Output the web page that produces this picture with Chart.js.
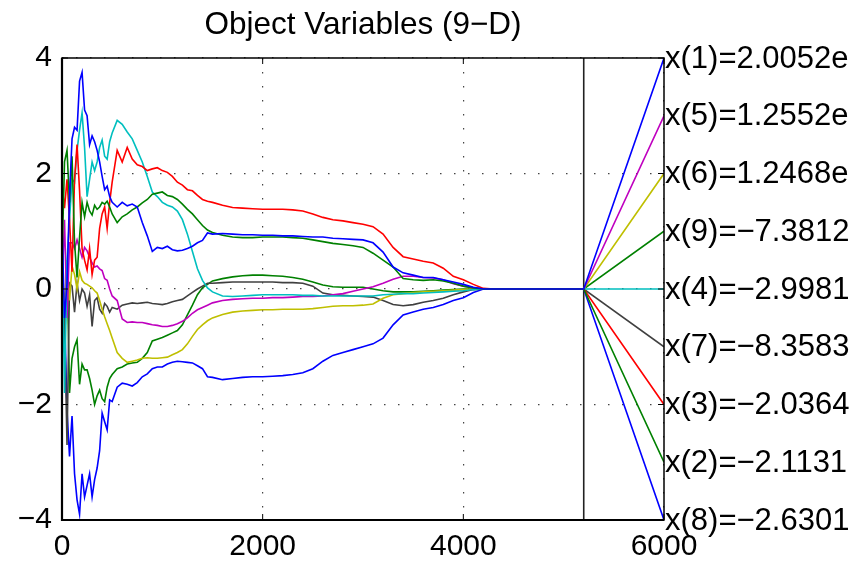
<!DOCTYPE html>
<html>
<head>
<meta charset="utf-8">
<script src="https://cdn.jsdelivr.net/npm/chart.js@4/dist/chart.umd.min.js"></script>
<style>
html,body{margin:0;padding:0;background:#fff;}
#c{display:block;}
</style>
</head>
<body>
<canvas id="c" width="857" height="564"></canvas>
<script>
// ---- data ----
const titleText = "Object Variables (9\u2212D)";
const evals = [0,25,50,75,100,125,150,175,200,225,250,275,300,325,350,375,400,425,450,475,500,
  550,600,650,700,750,800,850,900,950,1000,1050,1100,1150,1200,1250,1300,1350,1400,1450,1500,
  1600,1700,1800,1900,2000,2100,2200,2300,2400,2500,2600,2700,2800,2900,3000,3100,3200,3300,3400,3500,3600,3700,3800,3900,4000,4100,4200,4300,5200];
const finalEval = 5200;
const labelEval = 6000;

const x1 = [1.1,-0.5,0.1,1.6,2.6,2.8,2.75,3.6,3.75,3.1,3.0,2.5,2.65,2.55,2.4,2.2,1.95,1.72,1.78,1.6,1.5,
  1.42,1.5,1.44,1.47,1.42,1.15,0.92,0.65,0.72,0.7,0.74,0.68,0.66,0.67,0.7,0.74,0.8,0.84,0.97,0.95,
  0.96,0.95,0.94,0.94,0.93,0.93,0.92,0.92,0.91,0.9,0.9,0.88,0.87,0.86,0.85,0.8,0.64,0.38,0.28,0.24,0.2,0.2,0.16,0.12,0.08,0.03,0,0,0];
const x2 = [0.5,2.2,2.4,1.5,2.3,0.8,0.2,0.9,1.5,1.25,1.5,1.35,1.28,1.45,1.38,1.42,1.5,1.47,1.52,1.42,1.3,
  1.15,1.25,1.3,1.37,1.42,1.49,1.55,1.64,1.66,1.68,1.62,1.6,1.55,1.47,1.38,1.3,1.2,1.1,1.02,0.98,
  0.93,0.9,0.89,0.89,0.9,0.9,0.9,0.89,0.88,0.85,0.82,0.79,0.77,0.75,0.72,0.62,0.5,0.38,0.18,0.16,0.15,0.16,0.14,0.1,0.05,0.02,0,0,0];
const x3 = [1.8,1.4,1.9,1.2,0.3,1.9,2.5,1.7,0.7,0.5,0.33,0.7,0.25,0.5,0.55,1.05,1.3,1.42,1.05,1.5,1.85,
  2.4,2.2,2.45,2.25,2.15,2.12,2.05,2.08,2.1,2.05,2.02,1.95,1.85,1.8,1.72,1.7,1.62,1.55,1.52,1.5,
  1.45,1.41,1.4,1.39,1.38,1.38,1.38,1.37,1.35,1.3,1.24,1.2,1.18,1.15,1.12,1.08,0.95,0.72,0.56,0.52,0.48,0.45,0.36,0.22,0.16,0.08,0.01,0,0];
const x4 = [1.2,-1.8,0.5,1.2,1.9,1.85,2.4,2.75,3.05,2.45,1.6,1.9,2.2,2.05,2.2,2.45,2.58,2.3,2.25,2.55,2.7,
  2.92,2.85,2.72,2.6,2.4,2.2,1.95,1.68,1.6,1.5,1.45,1.42,1.35,1.2,0.95,0.65,0.35,0.15,0.02,-0.05,
  -0.12,-0.13,-0.12,-0.11,-0.1,-0.1,-0.1,-0.1,-0.11,-0.11,-0.12,-0.12,-0.12,-0.12,-0.12,-0.12,-0.1,-0.09,-0.08,-0.08,-0.07,-0.06,-0.05,-0.04,-0.03,-0.01,0,0,0];
const x5 = [0,1.2,-0.5,0.8,0.8,0.7,0.85,0.7,0.55,0.72,0.66,0.55,0.45,0.38,0.4,0.35,0.32,0.18,0.15,0.0,-0.12,
  -0.2,-0.52,-0.58,-0.57,-0.58,-0.58,-0.6,-0.62,-0.63,-0.65,-0.65,-0.63,-0.6,-0.56,-0.5,-0.42,-0.36,-0.32,-0.28,-0.24,
  -0.2,-0.18,-0.17,-0.16,-0.16,-0.15,-0.15,-0.14,-0.13,-0.13,-0.12,-0.1,-0.08,-0.04,0.0,0.04,0.1,0.17,0.22,0.22,0.2,0.19,0.16,0.09,0.05,0.02,0,0,0];
const x6 = [0.3,-0.3,0.5,-0.2,0.4,0.25,0.0,0.3,0.15,0.1,0.08,0.05,0.02,-0.03,-0.07,-0.2,-0.35,-0.48,-0.6,-0.72,-0.85,
  -1.1,-1.2,-1.27,-1.25,-1.23,-1.2,-1.19,-1.2,-1.2,-1.19,-1.18,-1.14,-1.1,-1.05,-0.95,-0.82,-0.7,-0.62,-0.55,-0.5,
  -0.44,-0.4,-0.38,-0.37,-0.36,-0.36,-0.35,-0.35,-0.35,-0.34,-0.32,-0.3,-0.29,-0.29,-0.28,-0.26,-0.16,-0.1,-0.08,-0.06,-0.05,-0.04,-0.03,-0.02,-0.01,0,0,0,0];
const x7 = [0.2,-0.5,-2.7,0.1,0.05,-0.4,0.1,-0.2,0.0,-0.07,-0.3,-0.1,-0.65,-0.2,-0.15,-0.35,-0.42,-0.25,-0.3,-0.4,-0.32,
  -0.35,-0.28,-0.26,-0.24,-0.25,-0.24,-0.23,-0.25,-0.26,-0.27,-0.25,-0.22,-0.2,-0.18,-0.12,-0.06,0.0,0.05,0.1,0.1,
  0.11,0.12,0.12,0.12,0.12,0.12,0.11,0.11,0.1,0.05,-0.07,-0.1,-0.11,-0.12,-0.13,-0.14,-0.2,-0.27,-0.29,-0.27,-0.23,-0.2,-0.16,-0.1,-0.05,-0.01,0,0,0];
const x8 = [-1.0,-0.4,-2.1,-2.9,-2.2,-3.2,-3.65,-3.9,-3.2,-3.6,-3.4,-3.2,-3.6,-3.3,-3.1,-2.8,-2.15,-2.3,-2.44,-1.92,-1.95,
  -1.7,-1.63,-1.65,-1.68,-1.62,-1.52,-1.47,-1.38,-1.35,-1.35,-1.3,-1.27,-1.25,-1.26,-1.27,-1.28,-1.33,-1.38,-1.52,-1.53,
  -1.57,-1.55,-1.53,-1.52,-1.52,-1.51,-1.5,-1.48,-1.45,-1.38,-1.25,-1.15,-1.1,-1.05,-1.0,-0.95,-0.85,-0.62,-0.45,-0.4,-0.35,-0.32,-0.27,-0.2,-0.15,-0.06,0,0,0];
const x9 = [-0.3,-1.1,0.5,-1.8,-1.2,-1.0,-0.88,-1.65,-1.3,-1.4,-1.4,-1.55,-1.75,-2.0,-1.85,-1.75,-1.9,-1.95,-1.7,-1.55,-1.48,
  -1.38,-1.35,-1.3,-1.28,-1.27,-1.2,-1.1,-0.9,-0.87,-0.84,-0.8,-0.76,-0.72,-0.62,-0.45,-0.28,-0.1,0.02,0.08,0.14,
  0.18,0.21,0.23,0.24,0.24,0.23,0.22,0.2,0.17,0.12,0.07,0.04,0.03,0.03,0.03,0.0,-0.03,-0.05,-0.05,-0.05,-0.04,-0.03,-0.02,-0.01,0,0,0,0,0];

const seriesValues = [x1, x2, x3, x4, x5, x6, x7, x8, x9];
const seriesNames = ["x(1)", "x(2)", "x(3)", "x(4)", "x(5)", "x(6)", "x(7)", "x(8)", "x(9)"];
// rank position of each variable's end label on the y scale
const labelRank = [4, -3, -2, 0, 3, 2, -1, -4, 1];
const labelText = ["x(1)=2.0052e", "x(2)=\u22122.1131", "x(3)=\u22122.0364", "x(4)=\u22122.9981",
  "x(5)=1.2552e", "x(6)=1.2468e", "x(7)=\u22128.3583", "x(8)=\u22122.6301", "x(9)=\u22127.3812"];
const xTicks = [0, 2000, 4000, 6000];
const yTicks = [-4, -2, 0, 2, 4];

// ---- styles ----
const colors = ["#0000ff", "#008000", "#ff0000", "#00bfbf", "#bf00bf", "#bfbf00", "#404040", "#0000ff", "#008000"];
const FONT = "'Liberation Sans', Arial, Helvetica, sans-serif";

const datasets = seriesValues.map((vals, i) => {
  const pts = evals.map((e, k) => ({x: e, y: vals[k]}));
  pts.push({x: labelEval, y: labelRank[i]});
  return {
    label: seriesNames[i], data: pts, borderColor: colors[i], borderWidth: 1.6,
    pointRadius: 0, fill: false, tension: 0
  };
});
datasets.push({
  label: "end", data: [{x: finalEval, y: yTicks[0]}, {x: finalEval, y: yTicks[yTicks.length - 1]}],
  borderColor: "#222", borderWidth: 1.6, pointRadius: 0, fill: false
});

const framePlugin = {
  id: "frame",
  afterDatasetsDraw(chart) {
    const {ctx, chartArea: a, scales} = chart;
    ctx.save();
    ctx.strokeStyle = "#000";
    ctx.lineWidth = 1;
    // inward tick marks
    xTicks.forEach(v => {
      const px = scales.x.getPixelForValue(v);
      ctx.beginPath();
      ctx.moveTo(px, a.bottom); ctx.lineTo(px, a.bottom - 6);
      ctx.moveTo(px, a.top); ctx.lineTo(px, a.top + 6);
      ctx.stroke();
    });
    yTicks.forEach(v => {
      const py = scales.y.getPixelForValue(v);
      ctx.beginPath();
      ctx.moveTo(a.left, py); ctx.lineTo(a.left + 6, py);
      ctx.moveTo(a.right, py); ctx.lineTo(a.right - 6, py);
      ctx.stroke();
    });
    ctx.lineWidth = 1.5;
    ctx.strokeRect(a.left, a.top, a.right - a.left, a.bottom - a.top);
    ctx.lineWidth = 2.2;
    ctx.beginPath();
    ctx.moveTo(a.left, a.top); ctx.lineTo(a.left, a.bottom); ctx.lineTo(a.right, a.bottom);
    ctx.stroke();
    // end labels
    ctx.fillStyle = "#000";
    ctx.font = "31px " + FONT;
    ctx.textAlign = "left";
    ctx.textBaseline = "middle";
    labelText.forEach((t, i) => {
      ctx.fillText(t, scales.x.getPixelForValue(labelEval) + 1, scales.y.getPixelForValue(labelRank[i]) + 1);
    });
    // title
    ctx.font = "31.5px " + FONT;
    ctx.textAlign = "center";
    ctx.textBaseline = "alphabetic";
    ctx.fillText(titleText, (a.left + a.right) / 2, 34);
    ctx.restore();
  }
};

new Chart(document.getElementById("c"), {
  type: "line",
  data: {datasets},
  plugins: [framePlugin],
  options: {
    responsive: false,
    animation: false,
    events: [],
    layout: {padding: {top: 58, right: 193, left: 0, bottom: 0}},
    plugins: {legend: {display: false}, tooltip: {enabled: false}, title: {display: false}},
    scales: {
      x: {
        type: "linear", min: 0, max: 6000,
        afterBuildTicks: s => { s.ticks = xTicks.map(v => ({value: v})); },
        afterFit: s => { s.height = 44; },
        ticks: {color: "#000", font: {size: 30, family: FONT}, padding: 9, maxRotation: 0,
          callback: v => String(v)},
        grid: {color: "#444", lineWidth: 1.2, drawTicks: false},
        border: {display: false, dash: [1.5, 12.5]}
      },
      y: {
        type: "linear", min: -4, max: 4,
        afterBuildTicks: s => { s.ticks = yTicks.map(v => ({value: v})); },
        afterFit: s => { s.width = 62; },
        ticks: {color: "#000", font: {size: 30, family: FONT}, padding: 10,
          callback: v => (v < 0 ? "\u2212" + Math.abs(v) : String(v))},
        grid: {color: "#444", lineWidth: 1.2, drawTicks: false},
        border: {display: false, dash: [1.5, 12.5]}
      }
    }
  }
});
</script>
</body>
</html>
